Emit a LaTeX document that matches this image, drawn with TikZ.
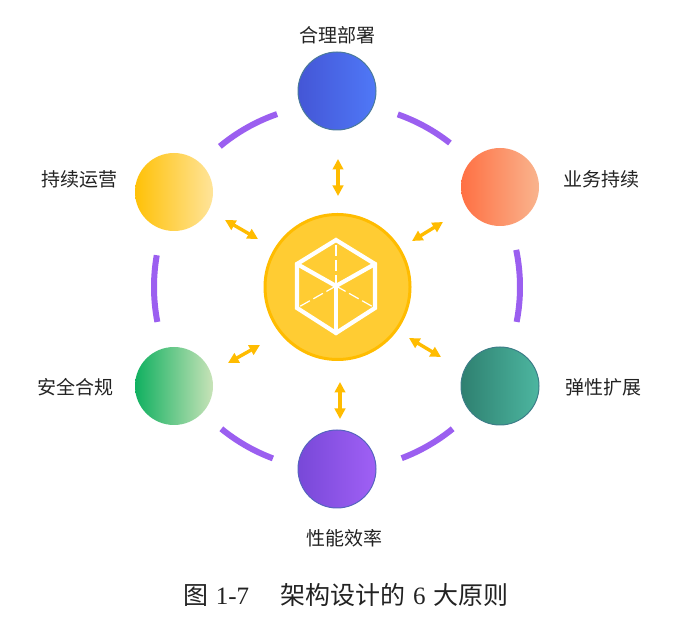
\documentclass[tikz,border=0pt]{standalone}
\usepackage{fontspec}
\setmainfont{Liberation Serif}
\newfontfamily\cjk{Noto Sans CJK SC}
\usetikzlibrary{arrows.meta}
\definecolor{ringc}{HTML}{9B5FF0}
\definecolor{goldc}{HTML}{FFBC00}
\definecolor{hubc}{HTML}{FFCC33}
\definecolor{textc}{HTML}{222222}
\definecolor{bluea}{HTML}{4456D6}\definecolor{blueb}{HTML}{4C6EF0}\definecolor{bluec}{HTML}{4F78F7}\definecolor{blued}{HTML}{4A7A9A}
\definecolor{yela}{HTML}{FFC107}\definecolor{yelb}{HTML}{FFD669}\definecolor{yelc}{HTML}{FFE49A}
\definecolor{orga}{HTML}{FF7043}\definecolor{orgb}{HTML}{FC966C}\definecolor{orgc}{HTML}{F9B48E}
\definecolor{teala}{HTML}{2E8070}\definecolor{tealb}{HTML}{40A28E}\definecolor{tealc}{HTML}{4DB6A0}\definecolor{teald}{HTML}{3C7D87}
\definecolor{grna}{HTML}{10B060}\definecolor{grnb}{HTML}{96D4A0}\definecolor{grnc}{HTML}{C8E3B8}
\definecolor{pura}{HTML}{7848D8}\definecolor{purb}{HTML}{9156EB}\definecolor{purc}{HTML}{A060F5}\definecolor{purd}{HTML}{5564BE}
\tikzset{
  x=1pt,y=1pt,
  petal/.style={circle,minimum size=78pt,inner sep=0pt,line width=1pt},
  ringarc/.style={draw=ringc,line width=6pt},
  biarrow/.style={draw=goldc,line width=3.4pt,{Triangle[length=10.5pt,width=10.5pt]}-{Triangle[length=10.5pt,width=10.5pt]}},
  cubeedge/.style={draw=white,line width=4.2pt,line cap=round},
  cubehidden/.style={draw=white,line width=1.2pt,dash pattern=on 11pt off 4pt},
  lbl/.style={text=textc,inner sep=0pt,font=\fontsize{19}{20}\selectfont\cjk},
  captext/.style={text=textc,inner sep=0pt,font=\fontsize{25}{27}\selectfont}
}
\begin{document}
\begin{tikzpicture}
\useasboundingbox (0,0) rectangle (684,631);
\coordinate (c) at (337,344);
% ring arcs
\draw[ringarc] (c) ++(70.6:183) arc[start angle=70.6,end angle=51.9,radius=183];
\draw[ringarc] (c) ++(11.7:183) arc[start angle=11.7,end angle=-11,radius=183];
\draw[ringarc] (c) ++(-50.8:183) arc[start angle=-50.8,end angle=-69.3,radius=183];
\draw[ringarc] (c) ++(230.8:183) arc[start angle=230.8,end angle=249.5,radius=183];
\draw[ringarc] (c) ++(170:183) arc[start angle=170,end angle=191,radius=183];
\draw[ringarc] (c) ++(129.8:183) arc[start angle=129.8,end angle=109.1,radius=183];
% petals
\node[petal,draw=blued,left color=bluea,middle color=blueb,right color=bluec] (top) at (337,540) {};
\node[petal,left color=yela,middle color=yelb,right color=yelc] (ul) at (174,439) {};
\node[petal,left color=orga,middle color=orgb,right color=orgc] (ur) at (500,444) {};
\node[petal,draw=teald,left color=teala,middle color=tealb,right color=tealc] (lr) at (500,245) {};
\node[petal,left color=grna,middle color=grnb,right color=grnc] (ll) at (174,245) {};
\node[petal,draw=purd,left color=pura,middle color=purb,right color=purc] (bot) at (337,162) {};
% hub
\node[circle,minimum size=145pt,inner sep=0pt,fill=hubc,draw=goldc,line width=3pt] (hub) at (337.5,344) {};
% cube
\coordinate (k0) at (336,345);
\coordinate (k1) at (336,391);
\coordinate (k2) at (375,367);
\coordinate (k3) at (375,323);
\coordinate (k4) at (336,298);
\coordinate (k5) at (297,323);
\coordinate (k6) at (297,367);
\draw[cubehidden] (k0) -- (k1);
\draw[cubehidden] (k0) -- (k3);
\draw[cubehidden] (k0) -- (k5);
\draw[cubeedge] (k1) -- (k2) -- (k3) -- (k4) -- (k5) -- (k6) -- cycle;
\draw[cubeedge] (k0) -- (k2);
\draw[cubeedge] (k0) -- (k4);
\draw[cubeedge] (k0) -- (k6);
% arrows
\coordinate (a1s) at (338,472); \coordinate (a1e) at (338,435);
\coordinate (a2s) at (340,249); \coordinate (a2e) at (340,212);
\coordinate (a3s) at (225,411); \coordinate (a3e) at (258,392);
\coordinate (a4s) at (443,409); \coordinate (a4e) at (412,390);
\coordinate (a5s) at (228,268); \coordinate (a5e) at (260,286);
\coordinate (a6s) at (409,293); \coordinate (a6e) at (441,274);
\draw[biarrow] (a1s) -- (a1e);
\draw[biarrow] (a2s) -- (a2e);
\draw[biarrow] (a3s) -- (a3e);
\draw[biarrow] (a4s) -- (a4e);
\draw[biarrow] (a5s) -- (a5e);
\draw[biarrow] (a6s) -- (a6e);
% labels
\node[lbl] (t1) at (337.5,596) {合理部署};
\node[lbl] (t2) at (79,452) {持续运营};
\node[lbl] (t3) at (601,452) {业务持续};
\node[lbl] (t4) at (603,244) {弹性扩展};
\node[lbl] (t5) at (75,244) {安全合规};
\node[lbl] (t6) at (344,93) {性能效率};
\node[captext] (caption) at (346,36) {{\cjk 图}\hspace{7.5pt}1-7\hspace{31pt}{\cjk 架构设计的}\hspace{8pt}6\hspace{8pt}{\cjk 大原则}};
\end{tikzpicture}
\end{document}
